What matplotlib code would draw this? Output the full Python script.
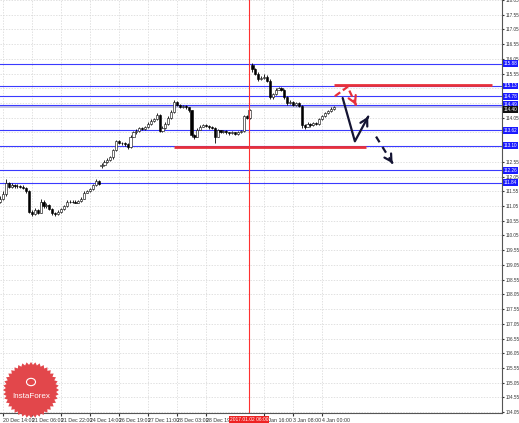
import matplotlib.pyplot as plt
import numpy as np
from matplotlib import font_manager
from matplotlib.patches import Polygon, Circle

# Data (hourly candles)
opens = [111.20, 111.30, 111.45, 111.85, 111.70, 111.78, 111.72, 111.74, 111.70, 111.68,
         111.55, 110.85, 110.78, 110.90, 110.82, 111.20, 111.05, 111.10, 110.95, 110.80,
         110.78, 110.85, 110.95, 111.05, 111.20, 111.18, 111.20, 111.17, 111.22, 111.30,
         111.50, 111.55, 111.62, 111.75, 111.90, 112.40, 112.45, 112.55, 112.62, 112.70,
         112.95, 113.25, 113.20, 113.18, 113.15, 113.05, 113.40, 113.55, 113.60, 113.70,
         113.68, 113.72, 113.85, 113.95, 114.00, 114.15, 113.60, 113.70, 113.85, 114.05,
         114.25, 114.60, 114.50, 114.42, 114.45, 114.40, 114.30, 113.45, 113.40, 113.65,
         113.75, 113.80, 113.78, 113.72, 113.70, 113.40, 113.62, 113.58, 113.60, 113.55,
         113.52, 113.55, 113.50, 113.55, 113.60, 114.10, 114.05, 115.85, 115.70, 115.55,
         115.35, 115.40, 115.45, 115.30, 114.75, 114.85, 115.00, 115.05, 115.00, 114.75,
         114.55, 114.60, 114.50, 114.55, 114.45, 113.80, 113.75, 113.85, 113.80, 113.88,
         113.85, 114.00, 114.10, 114.20, 114.28, 114.35]
closes = [111.30, 111.45, 111.85, 111.70, 111.78, 111.72, 111.74, 111.70, 111.68, 111.55,
          110.85, 110.78, 110.90, 110.82, 111.20, 111.05, 111.10, 110.95, 110.80, 110.78,
          110.85, 110.95, 111.05, 111.20, 111.18, 111.20, 111.17, 111.22, 111.30, 111.50,
          111.55, 111.62, 111.75, 111.90, 111.80, 112.45, 112.55, 112.62, 112.70, 112.95,
          113.25, 113.20, 113.18, 113.15, 113.05, 113.40, 113.55, 113.60, 113.70, 113.68,
          113.72, 113.85, 113.95, 114.00, 114.15, 113.60, 113.70, 113.85, 114.05, 114.25,
          114.60, 114.50, 114.42, 114.45, 114.40, 114.30, 113.45, 113.40, 113.65, 113.75,
          113.80, 113.78, 113.72, 113.70, 113.40, 113.62, 113.58, 113.60, 113.55, 113.52,
          113.55, 113.50, 113.55, 113.60, 114.10, 114.05, 114.30, 115.70, 115.55, 115.35,
          115.40, 115.45, 115.30, 114.75, 114.85, 115.00, 115.05, 115.00, 114.75, 114.55,
          114.60, 114.50, 114.55, 114.45, 113.80, 113.75, 113.85, 113.80, 113.88, 113.85,
          114.00, 114.10, 114.20, 114.28, 114.35, 114.40]
highs = [111.40, 111.55, 111.98, 111.88, 111.85, 111.80, 111.80, 111.78, 111.75, 111.70,
         111.58, 110.92, 110.98, 110.95, 111.28, 111.25, 111.15, 111.12, 110.98, 110.86,
         110.90, 111.00, 111.10, 111.25, 111.24, 111.25, 111.24, 111.26, 111.35, 111.55,
         111.60, 111.68, 111.80, 111.96, 111.92, 112.50, 112.60, 112.68, 112.75, 113.00,
         113.30, 113.28, 113.24, 113.22, 113.18, 113.45, 113.60, 113.66, 113.75, 113.74,
         113.78, 113.90, 114.00, 114.05, 114.22, 114.18, 113.78, 113.90, 114.10, 114.30,
         114.65, 114.62, 114.52, 114.50, 114.48, 114.42, 114.32, 113.50, 113.70, 113.80,
         113.85, 113.84, 113.80, 113.76, 113.72, 113.66, 113.65, 113.64, 113.62, 113.58,
         113.60, 113.58, 113.60, 113.65, 114.15, 114.15, 114.35, 115.90, 115.75, 115.60,
         115.48, 115.52, 115.50, 115.35, 114.90, 115.05, 115.10, 115.08, 115.02, 114.80,
         114.65, 114.62, 114.60, 114.58, 114.48, 113.85, 113.90, 113.88, 113.92, 113.90,
         114.05, 114.15, 114.24, 114.32, 114.40, 114.45]
lows = [111.15, 111.25, 111.40, 111.65, 111.66, 111.68, 111.68, 111.65, 111.62, 111.50,
        110.80, 110.72, 110.75, 110.78, 110.80, 111.00, 111.00, 110.90, 110.75, 110.72,
        110.76, 110.82, 110.92, 111.02, 111.14, 111.15, 111.14, 111.15, 111.20, 111.28,
        111.48, 111.52, 111.60, 111.72, 111.76, 112.35, 112.42, 112.52, 112.58, 112.66,
        112.92, 113.15, 113.12, 113.10, 113.00, 113.02, 113.38, 113.50, 113.56, 113.62,
        113.64, 113.70, 113.82, 113.92, 113.96, 113.55, 113.56, 113.66, 113.82, 114.00,
        114.22, 114.45, 114.38, 114.38, 114.35, 114.25, 113.40, 113.34, 113.38, 113.62,
        113.72, 113.72, 113.68, 113.66, 113.20, 113.38, 113.54, 113.54, 113.50, 113.48,
        113.50, 113.46, 113.48, 113.52, 113.58, 114.00, 114.00, 115.60, 115.50, 115.30,
        115.32, 115.38, 115.25, 114.70, 114.70, 114.82, 114.98, 114.95, 114.70, 114.50,
        114.52, 114.45, 114.45, 114.40, 113.70, 113.68, 113.72, 113.74, 113.76, 113.80,
        113.82, 113.98, 114.08, 114.18, 114.26, 114.32]

# time axis labels (the one under the red date box is hidden, as in the terminal)
x_tick_bars = [1, 11, 21, 31, 41, 51, 61, 71, 91, 101, 111]
x_tick_labels = ['20 Dec 14:00', '21 Dec 06:00', '21 Dec 22:00', '24 Dec 14:00',
                 '26 Dec 19:00', '27 Dec 11:00', '28 Dec 03:00', '28 Dec 19:00',
                 '2 Jan 16:00', '3 Jan 08:00', '4 Jan 00:00']

levels = [115.88, 115.13, 114.78, 114.49, 113.62, 113.10, 112.26, 111.84]
bid_price = 114.40
separator_bar = 85.8
separator_label = '2017.01.02 06:00'

# red resistance / support segments: (bar from, bar to, price)
red_segments = [(60, 126, 113.05), (115, 169.5, 115.15)]

# forecast arrows as (bar, price) points
arrow_main = [(118.1, 114.72), (122.3, 113.25), (126.9, 114.09)]
arrow_alt = [(115.4, 114.78), (119.8, 115.10), (122.7, 114.48)]
arrow_next = [(129.6, 113.41), (135.3, 112.50)]

names = {f.name for f in font_manager.fontManager.ttflist}
small_font = 'Liberation Sans Narrow' if 'Liberation Sans Narrow' in names else 'Liberation Sans'

fig = plt.figure(figsize=(5.19, 4.23), dpi=100)
ax = fig.add_axes([0, 10 / 423, 502 / 519, 413 / 423])
ax.set_xlim(0, 173)
ax.set_ylim(104.02, 118.02)

# grid
ax.grid(True, color='#d4d4d4', linestyle=(0, (2, 2)), linewidth=0.5)
ax.set_axisbelow(True)

# candles
x = np.arange(len(closes))
ax.vlines(x, lows, highs, color='black', linewidth=0.6, zorder=3)
for i in range(len(closes)):
    o, c = opens[i], closes[i]
    h = max(abs(c - o), 0.015)
    face = 'white' if c >= o else 'black'
    ax.bar(i, h, bottom=min(o, c), width=0.75, color=face, edgecolor='black',
           linewidth=0.4, zorder=4)

# horizontal levels
for lv in levels:
    ax.axhline(lv, color='#3a3aff', linewidth=0.8, zorder=2)
ax.axhline(bid_price, color='#c4c4e6', linewidth=1.4, zorder=1.5)

# red horizontal segments
for x0, x1, p in red_segments:
    ax.hlines(p, x0, x1, color='#e8303a', linewidth=2, zorder=5)

# vertical separator
ax.axvline(separator_bar, color='#ff3030', linewidth=0.8, zorder=5)

# arrows: polyline body plus an open head at the last point
def draw_arrow(pts, color, ls):
    xs = [p[0] for p in pts]
    ys = [p[1] for p in pts]
    ax.plot(xs, ys, color=color, linewidth=1.6, linestyle=ls, zorder=6,
            solid_capstyle='round')
    (x0, y0), (x1, y1) = pts[-2], pts[-1]
    near = (x1 - 0.02 * (x1 - x0), y1 - 0.02 * (y1 - y0))
    ax.annotate('', xy=(x1, y1), xytext=near,
                arrowprops=dict(arrowstyle='->,head_length=0.5,head_width=0.28',
                                color=color, lw=1.6, shrinkA=0, shrinkB=0),
                zorder=7)

draw_arrow(arrow_main, '#141433', '-')
draw_arrow(arrow_alt, '#e8303a', (0, (3, 1.5)))
draw_arrow(arrow_next, '#141433', (0, (3, 2.5)))

# axes look
for s in ['top', 'left']:
    ax.spines[s].set_visible(False)
ax.spines['right'].set_color('#555555')
ax.spines['bottom'].set_color('#555555')
ax.spines['right'].set_linewidth(0.8)
ax.spines['bottom'].set_linewidth(0.8)

# price ticks; those hidden under a level box are left blank
yt = np.arange(104.05, 118.06, 0.5)
boxed = levels + [bid_price - 0.08]
ax.yaxis.tick_right()
ax.set_yticks(yt)
ax.set_yticklabels(['' if min(abs(v - b) for b in boxed) < 0.14 else f'{v:.2f}' for v in yt],
                   fontfamily=small_font)
ax.tick_params(axis='y', labelsize=3.3, length=1.5, pad=1, colors='#333333')
ax.set_xticks(x_tick_bars)
ax.set_xticklabels(x_tick_labels, ha='left', fontfamily=small_font)
ax.tick_params(axis='x', labelsize=3.8, length=2, pad=1.5, colors='#333333')

# level price boxes on the right axis
for lv in levels:
    ax.text(1.003, lv, f'{lv:.2f}', transform=ax.get_yaxis_transform(),
            fontsize=3.3, color='white', va='center', ha='left', clip_on=False,
            fontfamily=small_font,
            bbox=dict(boxstyle='square,pad=0.2', fc='#1a1aff', ec='none'), zorder=10)
ax.text(1.003, bid_price - 0.08, f'{bid_price:.2f}', transform=ax.get_yaxis_transform(),
        fontsize=3.3, color='white', va='center', ha='left', clip_on=False,
        fontfamily=small_font,
        bbox=dict(boxstyle='square,pad=0.2', fc='#111111', ec='none'), zorder=10)

# separator date box on the time axis
ax.text(separator_bar, -0.01, separator_label, transform=ax.get_xaxis_transform(),
        fontsize=3.5, color='white', va='top', ha='center', clip_on=False,
        fontfamily=small_font,
        bbox=dict(boxstyle='square,pad=0.25', fc='#ee2222', ec='none'), zorder=10)

# InstaForex seal
cx, cy, r = 31, 423 - 390, 28
n = 40
ang = np.linspace(0, 2 * np.pi, 2 * n, endpoint=False)
rad = np.where(np.arange(2 * n) % 2 == 0, r, r * 0.9)
px = cx + rad * np.cos(ang)
py = cy + rad * np.sin(ang)
seal = Polygon(np.column_stack([px / 519, py / 423]), closed=True,
               transform=fig.transFigure, fc='#e2474b', ec='none', zorder=20)
fig.patches.append(seal)
fig.patches.append(Circle((cx / 519, (cy + 8) / 423), 4.5 / 519, transform=fig.transFigure,
                          fc='none', ec='white', lw=0.8, zorder=21))
fig.text(cx / 519, (cy - 6) / 423, 'InstaForex', color='white', fontsize=5.8,
         ha='center', va='center', zorder=22, fontfamily=small_font)

fig.savefig('out.png', dpi=100, facecolor='white')
